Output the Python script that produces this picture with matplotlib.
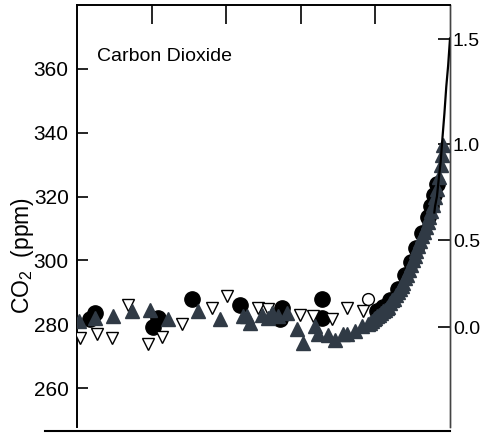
import numpy as np
import matplotlib
matplotlib.use("Agg")
import matplotlib.pyplot as plt
from matplotlib.lines import Line2D

# ---------------- data ----------------
circle_year = [1035, 1048, 1204, 1217, 1308, 1437, 1544, 1550, 1657, 1657,
               1805, 1820, 1840, 1860, 1880, 1895, 1910, 1925, 1940, 1950,
               1958, 1965]
circle_ppm = [281.5, 283.4, 279, 282, 288, 286, 281.5, 285, 288, 282,
              284, 285.5, 287.5, 291, 295.5, 299.5, 304, 308.5, 313.5, 317,
              320.5, 324]

open_down_year = [1008, 1053, 1093, 1137, 1190, 1228, 1281, 1362, 1402, 1485,
                  1512, 1598, 1632, 1683, 1724, 1767]
open_down_ppm = [275.6, 277, 275.6, 286, 273.7, 276, 280, 285, 288.8, 285,
                 284.7, 283, 282.5, 281.5, 285, 284]

tri_year = [1005, 1048, 1097, 1147, 1196, 1244, 1324, 1383, 1445, 1456,
            1464, 1496, 1512, 1523, 1539, 1563, 1590, 1606, 1638, 1646,
            1673, 1692, 1713, 1724, 1745, 1764,
            1780, 1785, 1790, 1795, 1800, 1805, 1810, 1815, 1820, 1825,
            1830, 1835, 1840, 1845, 1850, 1855, 1860, 1865, 1870, 1875,
            1880, 1885, 1890, 1895, 1900, 1905, 1910, 1915, 1920, 1925,
            1930, 1935, 1940, 1945, 1950, 1955, 1960, 1965, 1970, 1975,
            1978, 1980]
tri_ppm = [281, 282, 282.5, 284, 284.5, 281.6, 284, 281.6, 282.5, 282.5,
           280.3, 283, 282, 283.5, 282.5, 283.5, 278.4, 274, 279.4, 277,
           276.5, 275, 277, 277, 278, 279.4,
           280, 280.5, 281, 281.5, 282, 282.5, 283, 283.5, 284, 284.5,
           285, 285.5, 286.5, 287.5, 288, 289, 290, 291, 292, 293,
           294.5, 295.5, 297, 298.5, 300, 301.5, 303, 304.5, 306, 307.5,
           309, 310.5, 312, 313.5, 315.5, 317.5, 320, 322.5, 326, 330,
           333, 336]

open_circle_year = [1780]
open_circle_ppm = [288]

line_year = [1958, 1960, 1965, 1970, 1975, 1980, 1985, 1990, 1995, 2000]
line_ppm = [315, 317, 320, 325.7, 331, 338.7, 346, 354.4, 361, 369.5]

left_ticks = [260, 280, 300, 320, 340, 360]
right_ticks = [0.0, 0.5, 1.0, 1.5]
top_ticks = [1200, 1400, 1600, 1800]
C0 = 279.0

# ---------------- figure ----------------
fam = ['Liberation Sans Narrow', 'Liberation Sans', 'DejaVu Sans']
plt.rcParams['font.family'] = fam
plt.rcParams['mathtext.fontset'] = 'custom'
plt.rcParams['mathtext.rm'] = 'Liberation Sans'
plt.rcParams['mathtext.it'] = 'Liberation Sans:italic'

fig = plt.figure(figsize=(4.81, 4.33), dpi=100)
W, H = 481, 433
ax = fig.add_axes([77 / W, (H - 427) / H, 373 / W, 422 / H])

dark = '#303a45'
ax.plot(circle_year, circle_ppm, 'o', ms=11, color='black', mec='black', zorder=2)
ax.plot(open_down_year, open_down_ppm, 'v', ms=9, mfc='white', mec='black', mew=1.0, zorder=3)
ax.plot(tri_year, tri_ppm, '^', ms=10, color=dark, mec=dark, zorder=4)
ax.plot(open_circle_year, open_circle_ppm, 'o', ms=8.5, mfc='white', mec='black', mew=1.0, zorder=5)
ax.plot(line_year, line_ppm, '-', color='black', lw=1.6, zorder=6)

ax.set_xlim(1000, 2000)
ax.set_ylim(247.8, 380)

ax.spines['bottom'].set_visible(False)
for s in ['left', 'top']:
    ax.spines[s].set_linewidth(1.4)
ax.spines['right'].set_linewidth(1.0)
ax.spines['right'].set_color('#444444')

ax.xaxis.set_ticks_position('top')
ax.set_xticks(top_ticks)
ax.tick_params(axis='x', direction='in', length=14, width=1.2, labeltop=False, labelbottom=False)

ax.set_yticks(left_ticks)
ax.tick_params(axis='y', direction='in', length=8, width=1.2, pad=6, labelsize=15)

fwd = lambda c: 5.35 * np.log(np.clip(c, 1e-6, None) / C0)
inv = lambda f: C0 * np.exp(f / 5.35)
sec = ax.secondary_yaxis('right', functions=(fwd, inv))
sec.set_yticks(right_ticks)
sec.set_yticklabels([f'{v:.1f}' for v in right_ticks])
sec.tick_params(axis='y', direction='in', length=9, width=1.2, pad=2, labelsize=14)
sec.spines['right'].set_linewidth(1.0)
sec.spines['right'].set_color('#444444')

ax.text(0.054, 0.877, 'Carbon Dioxide', transform=ax.transAxes, fontsize=14,
        ha='left', va='center')

fig.text(22 / W, 1 - 255 / H, 'CO$_2$  (ppm)', rotation=90, fontsize=16.5,
         ha='center', va='center', family=['Liberation Sans', 'DejaVu Sans'])

fig.add_artist(Line2D([45 / W, 450 / W], [1 - 431 / H, 1 - 431 / H],
                      transform=fig.transFigure, color='black', lw=1.5))

fig.savefig('out.png', dpi=100)
